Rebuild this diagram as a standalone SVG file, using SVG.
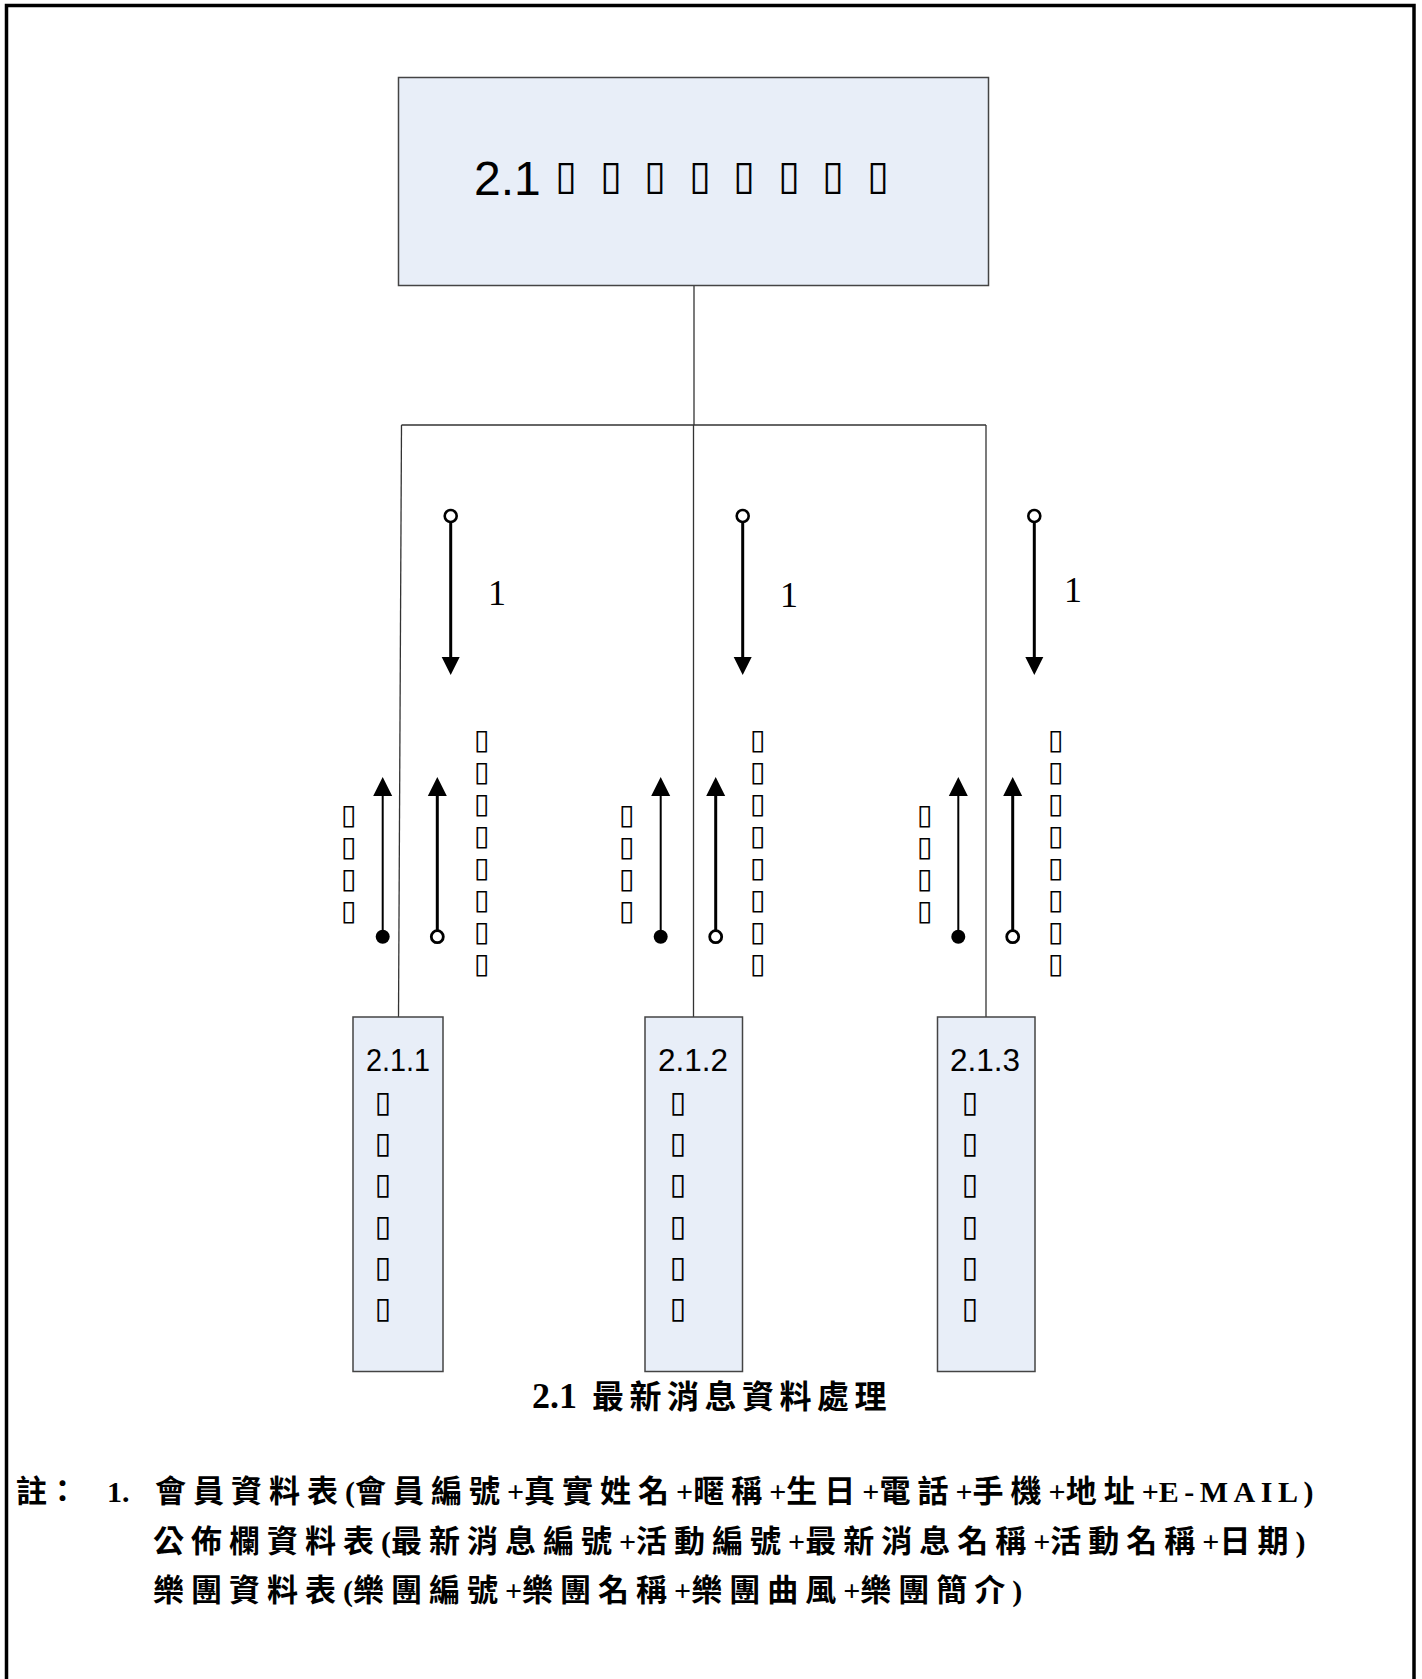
<svg xmlns="http://www.w3.org/2000/svg" width="1422" height="1679" viewBox="0 0 1422 1679">
<defs>
<style>
.box{fill:#E8EEF8;stroke:#444;stroke-width:1.5}
.conn{stroke:#333;stroke-width:1.3;fill:none}
.tofu{font-family:"DejaVu Sans",sans-serif;fill:#000}
.arr{stroke:#000;fill:none}
.one{font-family:"Liberation Serif",serif;font-size:36px;fill:#000}
.num{font-family:"Liberation Sans",sans-serif;fill:#000}
.note{font-family:"Liberation Serif","Noto Sans CJK TC",serif;font-weight:bold;font-size:30px;fill:#000}
.cj{font-family:"Noto Sans CJK TC",sans-serif;font-size:31px;letter-spacing:7px}
.cap{font-size:36px}
.capcj{font-size:32px;letter-spacing:5.5px}
</style>
</defs>
<rect x="6.5" y="5.5" width="1407.5" height="1700" fill="#fff" stroke="#000" stroke-width="3.5"/>
<g id="connectors">
<line class="conn" x1="694" y1="285" x2="694" y2="425"/>
<line class="conn" x1="401.5" y1="425" x2="986" y2="425"/>
<line class="conn" x1="401.5" y1="425" x2="398.5" y2="1017"/>
<line class="conn" x1="693.5" y1="425" x2="693.5" y2="1017"/>
<line class="conn" x1="986" y1="425" x2="986" y2="1017"/>
</g>
<g id="node-2-1">
<rect class="box" x="398.5" y="77.5" width="590" height="208"/>
<text class="num" x="474" y="195" font-size="48">2.1</text>
<text class="tofu" font-size="40" x="555 600 644 689 733 778 822 867" y="189">▯▯▯▯▯▯▯▯</text>
</g>
<g id="node-2-1-1">
<rect class="box" x="353" y="1017" width="90" height="354.5"/>
<text class="num" x="366" y="1071" font-size="32" textLength="64" lengthAdjust="spacingAndGlyphs">2.1.1</text>
<text class="tofu" font-size="30" x="374.5 374.5 374.5 374.5 374.5 374.5" y="1112 1153 1194 1236 1277 1318">▯▯▯▯▯▯</text>
</g>
<g id="node-2-1-2">
<rect class="box" x="645" y="1017" width="97.5" height="354.5"/>
<text class="num" x="658" y="1071" font-size="32" textLength="70" lengthAdjust="spacingAndGlyphs">2.1.2</text>
<text class="tofu" font-size="30" x="669.5 669.5 669.5 669.5 669.5 669.5" y="1112 1153 1194 1236 1277 1318">▯▯▯▯▯▯</text>
</g>
<g id="node-2-1-3">
<rect class="box" x="937.5" y="1017" width="97.5" height="354.5"/>
<text class="num" x="950" y="1071" font-size="32" textLength="70" lengthAdjust="spacingAndGlyphs">2.1.3</text>
<text class="tofu" font-size="30" x="961.5 961.5 961.5 961.5 961.5 961.5" y="1112 1153 1194 1236 1277 1318">▯▯▯▯▯▯</text>
</g>
<g id="flows-1">
<circle class="arr" cx="450.7" cy="516" r="6" stroke-width="2.6" fill="#fff"/>
<line class="arr" x1="450.7" y1="522" x2="450.7" y2="660" stroke-width="3"/>
<polygon points="441.7,657 459.7,657 450.7,675" fill="#000"/>
<text class="one" x="488" y="605">1</text>
<line class="arr" x1="382.7" y1="795" x2="382.7" y2="936" stroke-width="2"/>
<polygon points="373.2,796 392.2,796 382.7,777" fill="#000"/>
<circle cx="382.7" cy="936.7" r="7" fill="#000"/>
<line class="arr" x1="437.3" y1="795" x2="437.3" y2="930" stroke-width="3"/>
<polygon points="427.8,796 446.8,796 437.3,777" fill="#000"/>
<circle class="arr" cx="437.3" cy="936.7" r="6" stroke-width="2.8" fill="#fff"/>
<text class="tofu" font-size="28" x="341 341 341 341" y="824 856 888 920">▯▯▯▯</text>
<text class="tofu" font-size="28" x="474 474 474 474 474 474 474 474" y="749 781 813 845 877 909 941 973">▯▯▯▯▯▯▯▯</text>
</g>
<g id="flows-2">
<circle class="arr" cx="742.7" cy="516" r="6" stroke-width="2.6" fill="#fff"/>
<line class="arr" x1="742.7" y1="522" x2="742.7" y2="660" stroke-width="3"/>
<polygon points="733.7,657 751.7,657 742.7,675" fill="#000"/>
<text class="one" x="780" y="607">1</text>
<line class="arr" x1="660.7" y1="795" x2="660.7" y2="936" stroke-width="2"/>
<polygon points="651.2,796 670.2,796 660.7,777" fill="#000"/>
<circle cx="660.7" cy="936.7" r="7" fill="#000"/>
<line class="arr" x1="715.7" y1="795" x2="715.7" y2="930" stroke-width="3"/>
<polygon points="706.2,796 725.2,796 715.7,777" fill="#000"/>
<circle class="arr" cx="715.7" cy="936.7" r="6" stroke-width="2.8" fill="#fff"/>
<text class="tofu" font-size="28" x="619 619 619 619" y="824 856 888 920">▯▯▯▯</text>
<text class="tofu" font-size="28" x="750 750 750 750 750 750 750 750" y="749 781 813 845 877 909 941 973">▯▯▯▯▯▯▯▯</text>
</g>
<g id="flows-3">
<circle class="arr" cx="1034.3" cy="516" r="6" stroke-width="2.6" fill="#fff"/>
<line class="arr" x1="1034.3" y1="522" x2="1034.3" y2="660" stroke-width="3"/>
<polygon points="1025.3,657 1043.3,657 1034.3,675" fill="#000"/>
<text class="one" x="1064" y="602">1</text>
<line class="arr" x1="958.3" y1="795" x2="958.3" y2="936" stroke-width="2"/>
<polygon points="948.8,796 967.8,796 958.3,777" fill="#000"/>
<circle cx="958.3" cy="936.7" r="7" fill="#000"/>
<line class="arr" x1="1012.7" y1="795" x2="1012.7" y2="930" stroke-width="3"/>
<polygon points="1003.2,796 1022.2,796 1012.7,777" fill="#000"/>
<circle class="arr" cx="1012.7" cy="936.7" r="6" stroke-width="2.8" fill="#fff"/>
<text class="tofu" font-size="28" x="917 917 917 917" y="824 856 888 920">▯▯▯▯</text>
<text class="tofu" font-size="28" x="1048 1048 1048 1048 1048 1048 1048 1048" y="749 781 813 845 877 909 941 973">▯▯▯▯▯▯▯▯</text>
</g>
<g id="caption">
<text class="note cap" x="532" y="1408">2.1 <tspan class="cj capcj" x="592">最新消息資料處理</tspan></text>
</g>
<g id="notes">
<text class="note" x="16" y="1502"><tspan class="cj" style="letter-spacing:0">註：</tspan></text>
<text class="note" x="107" y="1502">1.</text>
<text class="note" x="155" y="1502"><tspan class="cj">會員資料表</tspan>(<tspan class="cj">會員編號</tspan>+<tspan class="cj">真實姓名</tspan>+<tspan class="cj">暱稱</tspan>+<tspan class="cj">生日</tspan>+<tspan class="cj">電話</tspan>+<tspan class="cj">手機</tspan>+<tspan class="cj">地址</tspan>+<tspan style="letter-spacing:5.5px">E-MAIL)</tspan></text>
<text class="note" x="153" y="1552"><tspan class="cj">公佈欄資料表</tspan>(<tspan class="cj">最新消息編號</tspan>+<tspan class="cj">活動編號</tspan>+<tspan class="cj">最新消息名稱</tspan>+<tspan class="cj">活動名稱</tspan>+<tspan class="cj">日期</tspan>)</text>
<text class="note" x="153" y="1601"><tspan class="cj">樂團資料表</tspan>(<tspan class="cj">樂團編號</tspan>+<tspan class="cj">樂團名稱</tspan>+<tspan class="cj">樂團曲風</tspan>+<tspan class="cj">樂團簡介</tspan>)</text>
</g>
</svg>
